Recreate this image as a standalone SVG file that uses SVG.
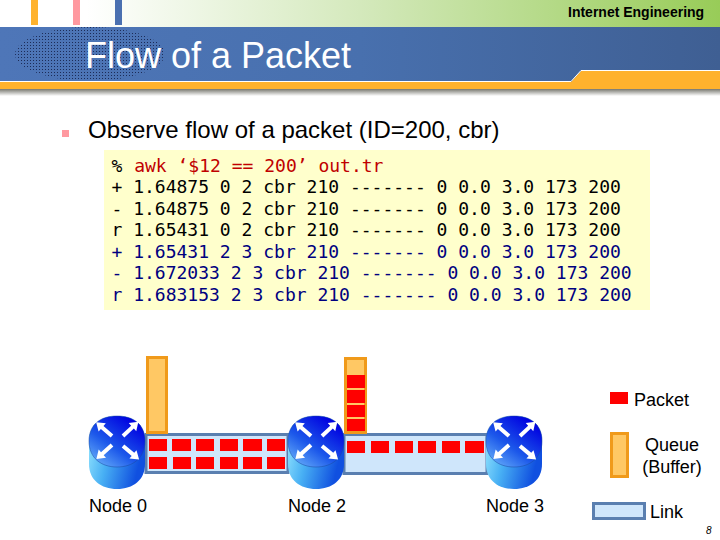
<svg xmlns="http://www.w3.org/2000/svg" xmlns:xlink="http://www.w3.org/1999/xlink" width="720" height="540" viewBox="0 0 720 540">
<style>
.s{font-family:"Liberation Sans",Arial,sans-serif;fill:#000}
.m{font-family:"DejaVu Sans Mono","Liberation Mono",monospace;font-size:18px;white-space:pre}
.k{fill:#000}.b{fill:#000080}.r{fill:#c00000}
.p{fill:#f00}
.q{fill:#ffc864;stroke:#f09a1a;stroke-width:3}
.l{fill:#cfe6fb;stroke:#5a7fb0;stroke-width:3}
.lb{font-size:18px}
</style>
<defs>
<linearGradient id="top" x1="0" x2="1" y1="0" y2="0"><stop offset="0.12" stop-color="#fff"/><stop offset="0.5" stop-color="#d4e9bc"/><stop offset="1" stop-color="#98cc58"/></linearGradient>
<linearGradient id="band" x1="0" x2="1" y1="0" y2="0"><stop offset="0" stop-color="#4e76b8"/><stop offset="0.5" stop-color="#4870ae"/><stop offset="1" stop-color="#3f5f93"/></linearGradient>
<linearGradient id="sh" x1="0" x2="0" y1="0" y2="1"><stop offset="0" stop-color="#77776f"/><stop offset="1" stop-color="#fff"/></linearGradient>
<pattern id="dots" width="3" height="3" patternUnits="userSpaceOnUse"><rect width="1" height="1" fill="#1c2c58"/></pattern>
<linearGradient id="body" x1="0" x2="1" y1="0" y2="0.3"><stop offset="0" stop-color="#a0ecff"/><stop offset="0.45" stop-color="#48b0f4"/><stop offset="1" stop-color="#1050e0"/></linearGradient>
<linearGradient id="face" x1="0.1" x2="0.8" y1="1" y2="0.1"><stop offset="0" stop-color="#6cb4fa"/><stop offset="0.45" stop-color="#1c58ea"/><stop offset="1" stop-color="#0000e0"/></linearGradient>
<polygon id="ar" points="0,-2 13,-2 13,-5.5 21,0 13,5.5 13,2 0,2" fill="#fff"/>
<g id="router">
<path d="M0,25 C0,8 12,0 28,0 C44,0 56,8 56,25 L56,48 C56,64 44,73 28,73 C12,73 0,64 0,48 Z" fill="url(#body)"/>
<path d="M0,25 C0,8 12,0 28,0 C44,0 56,8 56,25 C56,42 44,51 28,51 C12,51 0,42 0,25 Z" fill="url(#face)" stroke="#1848a0" stroke-width="0.5"/>
<use xlink:href="#ar" href="#ar" transform="translate(23,20) rotate(-139)"/>
<use xlink:href="#ar" href="#ar" transform="translate(34,20) rotate(-43)"/>
<use xlink:href="#ar" href="#ar" transform="translate(23,29) rotate(138)"/>
<use xlink:href="#ar" href="#ar" transform="translate(34,30) rotate(40)"/>
</g>
</defs>

<g id="header">
<rect width="720" height="27" fill="url(#top)"/>
<rect x="31" y="0" width="7" height="25" fill="#ffb22d"/>
<rect x="73" y="0" width="7" height="25" fill="#ff99a0"/>
<rect x="115" y="0" width="7" height="25" fill="#4a70b0"/>
<rect y="27" width="720" height="54" fill="url(#band)"/>
<rect y="71" width="720" height="11" fill="url(#band)"/>
<rect y="89" width="720" height="7" fill="url(#sh)"/>
<path d="M0,82 H571 L581,71 H720 V89 H0 Z" fill="#ffb22d"/>
<path d="M0,81.500 H571 L581,70.500 H720" fill="none" stroke="#fff" stroke-width="1"/>
<ellipse cx="90" cy="54" rx="75" ry="27" fill="url(#dots)"/>
<text class="s" x="568" y="17" font-size="14" font-weight="bold">Internet Engineering</text>
<text class="s" x="85" y="68" font-size="36" style="fill:#fff">Flow of a Packet</text>
</g>

<g id="bullet">
<rect x="62" y="130" width="7" height="7" fill="#ff99a0"/>
<text class="s" x="88" y="138" font-size="24">Observe flow of a packet (ID=200, cbr)</text>
</g>

<g id="trace">
<rect x="104" y="150" width="546" height="160" fill="#ffffcc"/>
<text class="m k" x="111.500" y="171.500">%</text>
<text class="m r" x="134.200" y="171.500">awk ‘$12 == 200’ out.tr</text>
<text class="m k" x="111.500" y="193">+ 1.64875 0 2 cbr 210 ------- 0 0.0 3.0 173 200</text>
<text class="m k" x="111.500" y="214.500">- 1.64875 0 2 cbr 210 ------- 0 0.0 3.0 173 200</text>
<text class="m k" x="111.500" y="236">r 1.65431 0 2 cbr 210 ------- 0 0.0 3.0 173 200</text>
<text class="m b" x="111.500" y="257.500">+ 1.65431 2 3 cbr 210 ------- 0 0.0 3.0 173 200</text>
<text class="m b" x="111.500" y="279">- 1.672033 2 3 cbr 210 ------- 0 0.0 3.0 173 200</text>
<text class="m b" x="111.500" y="300.500">r 1.683153 2 3 cbr 210 ------- 0 0.0 3.0 173 200</text>
</g>

<g id="connectors">
<g id="link-0-2">
<rect class="l" x="146" y="434.500" width="142" height="38"/>
<rect class="p" x="149" y="439" width="18" height="12"/><rect class="p" x="172" y="439" width="19" height="12"/><rect class="p" x="196" y="439" width="18" height="12"/><rect class="p" x="220" y="439" width="18" height="12"/><rect class="p" x="243" y="439" width="19" height="12"/><rect class="p" x="267" y="439" width="18" height="12"/>
<rect class="p" x="149" y="457" width="18" height="12"/><rect class="p" x="173" y="457" width="18" height="12"/><rect class="p" x="196" y="457" width="18" height="12"/><rect class="p" x="220" y="457" width="18" height="12"/><rect class="p" x="243" y="457" width="19" height="12"/><rect class="p" x="267" y="457" width="18" height="12"/>
</g>
<g id="link-2-3">
<rect class="l" x="344" y="434.500" width="143" height="39"/>
<rect class="p" x="347" y="441" width="18" height="12"/><rect class="p" x="371" y="441" width="18" height="12"/><rect class="p" x="395" y="441" width="18" height="12"/><rect class="p" x="418" y="441" width="18" height="12"/><rect class="p" x="442" y="441" width="18" height="12"/><rect class="p" x="465" y="441" width="19" height="12"/>
</g>
</g>

<g id="queue-0"><rect class="q" x="147.500" y="357.500" width="19" height="75"/></g>
<g id="queue-2">
<rect class="q" x="345.500" y="358.500" width="20" height="74"/>
<rect class="p" x="347" y="375" width="18" height="13"/><rect class="p" x="347" y="390" width="18" height="13"/><rect class="p" x="347" y="405" width="18" height="12"/><rect class="p" x="347" y="419" width="18" height="12"/>
</g>

<g id="node-0"><use xlink:href="#router" href="#router" x="89" y="416"/><text class="s lb" x="89" y="512">Node 0</text></g>
<g id="node-2"><use xlink:href="#router" href="#router" x="288" y="416"/><text class="s lb" x="288" y="512">Node 2</text></g>
<g id="node-3"><use xlink:href="#router" href="#router" x="486" y="416"/><text class="s lb" x="486" y="512">Node 3</text></g>

<g id="legend">
<rect class="p" x="610" y="392" width="18" height="12"/>
<text class="s lb" x="634" y="406">Packet</text>
<rect class="q" x="611.500" y="433.500" width="16" height="43"/>
<text class="s lb" x="672" y="451" text-anchor="middle">Queue</text>
<text class="s lb" x="672" y="473" text-anchor="middle">(Buffer)</text>
<rect class="l" x="593.500" y="503.500" width="51" height="15"/>
<text class="s lb" x="650" y="518">Link</text>
<text class="s" x="706" y="534" font-size="10" font-style="italic">8</text>
</g>
</svg>
